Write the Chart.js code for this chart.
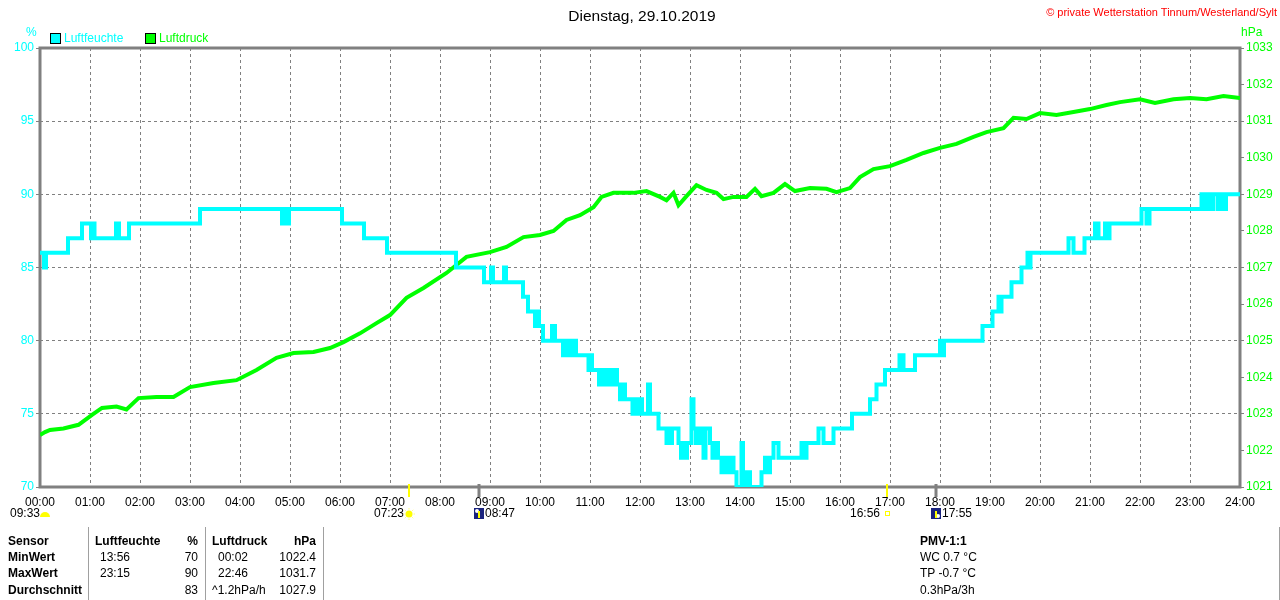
<!DOCTYPE html>
<html>
<head>
<meta charset="utf-8">
<script src="https://cdn.jsdelivr.net/npm/chart.js@4"></script>
<style>
  body { margin: 0; background: #fff; font-family: "Liberation Sans", Arial, sans-serif; }
  #wrap { position: relative; width: 1280px; height: 600px; overflow: hidden; }
  #chart { position: absolute; left: 0; top: 0; }
  .t { position: absolute; font-size: 12px; white-space: nowrap; line-height: 14px; }
  .b { font-weight: bold; }
  .r { text-align: right; }
  .sep { position: absolute; top: 527px; width: 1px; height: 73px; background: #a0a0a0; }
  .box { position: absolute; width: 9px; height: 9px; border: 1px solid #000; }
</style>
</head>
<body>
<div id="wrap">
  <canvas id="chart" width="1280" height="600"></canvas>

  <div class="t" style="left:2px;width:1280px;top:7px;text-align:center;font-size:15.5px;line-height:17px;">Dienstag, 29.10.2019</div>
  <div class="t r" style="right:3px;top:5px;color:#ff0000;font-size:11px;">© private Wetterstation Tinnum/Westerland/Sylt</div>

  <div class="t" style="left:26px;top:25px;color:#00ffff;">%</div>
  <div class="t" style="left:1241px;top:25px;color:#00ff00;">hPa</div>

  <div class="box" style="left:50px;top:33px;background:#00ffff;"></div>
  <div class="t" style="left:64px;top:31px;color:#00ffff;">Luftfeuchte</div>
  <div class="box" style="left:145px;top:33px;background:#00ff00;"></div>
  <div class="t" style="left:159px;top:31px;color:#00ff00;">Luftdruck</div>

  <div class="sep" style="left:88px;"></div>
  <div class="sep" style="left:205px;"></div>
  <div class="sep" style="left:323px;"></div>
  <div class="sep" style="left:1279px;"></div>

  <div class="t b" style="left:8px;top:534px;">Sensor</div>
  <div class="t b" style="left:8px;top:550px;">MinWert</div>
  <div class="t b" style="left:8px;top:566px;">MaxWert</div>
  <div class="t b" style="left:8px;top:583px;">Durchschnitt</div>

  <div class="t b" style="left:95px;top:534px;">Luftfeuchte</div>
  <div class="t b r" style="left:150px;width:48px;top:534px;">%</div>
  <div class="t" style="left:100px;top:550px;">13:56</div>
  <div class="t r" style="left:150px;width:48px;top:550px;">70</div>
  <div class="t" style="left:100px;top:566px;">23:15</div>
  <div class="t r" style="left:150px;width:48px;top:566px;">90</div>
  <div class="t r" style="left:150px;width:48px;top:583px;">83</div>

  <div class="t b" style="left:212px;top:534px;">Luftdruck</div>
  <div class="t b r" style="left:266px;width:50px;top:534px;">hPa</div>
  <div class="t" style="left:218px;top:550px;">00:02</div>
  <div class="t r" style="left:266px;width:50px;top:550px;">1022.4</div>
  <div class="t" style="left:218px;top:566px;">22:46</div>
  <div class="t r" style="left:266px;width:50px;top:566px;">1031.7</div>
  <div class="t" style="left:212px;top:583px;">^1.2hPa/h</div>
  <div class="t r" style="left:266px;width:50px;top:583px;">1027.9</div>

  <div class="t b" style="left:920px;top:534px;">PMV-1:1</div>
  <div class="t" style="left:920px;top:550px;">WC 0.7 °C</div>
  <div class="t" style="left:920px;top:566px;">TP -0.7 °C</div>
  <div class="t" style="left:920px;top:583px;">0.3hPa/3h</div>
</div>

<script>
// Luftfeuchte (%), Stufenwerte: Zeitpunkt der Änderung (Stunden) und neuer Wert
const humTimes = [0, 0.08, 0.12, 0.56, 0.84, 1.02, 1.05, 1.09, 1.52, 1.58, 1.78, 3.2,
    4.84, 4.9, 4.93, 4.98, 6.04, 6.48, 6.94, 8.32, 8.88, 9.02, 9.06, 9.28, 9.32,
    9.66, 9.76, 9.9, 9.94, 9.98, 10.06, 10.24, 10.3, 10.46, 10.5, 10.54, 10.58, 10.62,
    10.66, 10.72, 10.97, 11.0, 11.04, 11.18, 11.24, 11.3, 11.36, 11.42, 11.5, 11.54,
    11.6, 11.66, 11.7, 11.85, 11.9, 11.94, 12.0, 12.04, 12.16, 12.2, 12.37, 12.53,
    12.57, 12.6, 12.64, 12.77, 12.82, 12.86, 12.9, 12.94, 13.03, 13.07, 13.12, 13.16,
    13.2, 13.24, 13.27, 13.31, 13.4, 13.45, 13.5, 13.56, 13.63, 13.7, 13.75, 13.8,
    13.87, 13.93, 14.03, 14.06, 14.1, 14.16, 14.2, 14.43, 14.5, 14.55, 14.6, 14.67,
    14.77, 15.23, 15.27, 15.33, 15.57, 15.67, 15.87, 16.24, 16.6, 16.73, 16.9, 17.19,
    17.27, 17.5, 18.0, 18.04, 18.08, 18.85, 19.05, 19.17, 19.2, 19.23, 19.43, 19.63,
    19.75, 19.78, 19.81, 20.57, 20.67, 20.89, 21.1, 21.17, 21.3, 21.36, 21.39, 22.03,
    22.13, 22.19, 23.23, 23.3, 23.34, 23.42, 23.46, 23.55, 23.6, 23.68, 23.72, 24];
const humValues = [86, 85, 86, 87, 88, 87, 88, 87, 88, 87, 88, 89,
    88, 89, 88, 89, 88, 87, 86, 85, 84, 85, 84, 85, 84,
    83, 82, 81, 82, 81, 80, 81, 80, 79, 80, 79, 80, 79,
    80, 79, 78, 79, 78, 77, 78, 77, 78, 77, 78, 77,
    76, 77, 76, 75, 76, 75, 76, 75, 77, 75, 74, 73,
    74, 73, 74, 73, 72, 73, 72, 73, 76, 74, 73, 74,
    73, 74, 72, 74, 73, 72, 73, 72, 71, 72, 71, 72,
    71, 70, 73, 71, 70, 71, 70, 71, 72, 71, 72, 73,
    72, 73, 72, 73, 74, 73, 74, 75, 76, 77, 78, 79,
    78, 79, 80, 79, 80, 81, 82, 83, 82, 83, 84, 85,
    86, 85, 86, 87, 86, 87, 88, 87, 88, 87, 88, 89,
    88, 89, 90, 89, 90, 89, 90, 89, 90, 89, 90, 90];

// Luftdruck (hPa)
const presTimes = [0, 0.1, 0.2, 0.47, 0.77, 1.04, 1.24, 1.53, 1.73, 1.97, 2.33, 2.67,
    3.0, 3.47, 3.93, 4.33, 4.73, 5.07, 5.47, 5.8, 6.07, 6.4, 6.73, 7.0, 7.33, 7.67,
    8.13, 8.53, 9.0, 9.33, 9.67, 10.0, 10.27, 10.53, 10.8, 11.07, 11.23, 11.47, 11.87,
    12.13, 12.4, 12.53, 12.67, 12.77, 12.93, 13.13, 13.33, 13.53, 13.67, 13.87, 14.13,
    14.3, 14.43, 14.67, 14.9, 15.1, 15.4, 15.73, 15.93, 16.2, 16.4, 16.67, 17.0, 17.33,
    17.67, 18.0, 18.33, 18.67, 18.93, 19.27, 19.47, 19.73, 20.0, 20.33, 20.67, 21.0,
    21.33, 21.6, 22.0, 22.3, 22.67, 23.0, 23.33, 23.67, 24];
const presValues = [1022.42, 1022.5, 1022.56, 1022.6, 1022.7, 1022.97, 1023.16, 1023.2,
    1023.12, 1023.43, 1023.46, 1023.46, 1023.73, 1023.84, 1023.92, 1024.2, 1024.53,
    1024.66, 1024.69, 1024.8, 1024.96, 1025.2, 1025.48, 1025.7, 1026.17, 1026.44,
    1026.85, 1027.29, 1027.42, 1027.56, 1027.83, 1027.89, 1028.0, 1028.3, 1028.43,
    1028.65, 1028.93, 1029.04, 1029.04, 1029.09, 1028.93, 1028.84, 1029.04, 1028.7,
    1028.95, 1029.25, 1029.12, 1029.04, 1028.87, 1028.93, 1028.93, 1029.15, 1028.95,
    1029.04, 1029.28, 1029.09, 1029.17, 1029.15, 1029.06, 1029.17, 1029.47, 1029.69,
    1029.77, 1029.94, 1030.13, 1030.27, 1030.38, 1030.57, 1030.7, 1030.81, 1031.09,
    1031.06, 1031.22, 1031.17, 1031.25, 1031.33, 1031.44, 1031.52, 1031.6, 1031.5,
    1031.6, 1031.63, 1031.6, 1031.69, 1031.63];

// Sonne/Mond: Aufgang und Untergang
const eventTimes = [7 + 23 / 60, 8 + 47 / 60, 16 + 56 / 60, 17 + 55 / 60];
const eventLabels = ['07:23', '08:47', '16:56', '17:55'];
const eventKinds = ['sunrise', 'moonrise', 'sunset', 'moonset'];
const dayLength = '09:33';

const toPoints = (xs, ys) => xs.map((x, i) => ({ x: x, y: ys[i] }));

const frame = {
    id: 'frame',
    beforeDatasetsDraw(chart) {
        const { ctx, chartArea: a } = chart;
        ctx.save();
        ctx.strokeStyle = '#808080';
        ctx.lineWidth = 3;
        ctx.beginPath();
        ctx.moveTo(a.left, a.top);
        ctx.lineTo(a.right, a.top);
        ctx.lineTo(a.right, a.bottom);
        ctx.lineTo(a.left, a.bottom);
        ctx.closePath();
        ctx.stroke();
        ctx.restore();
    },
    afterDraw(chart) {
        const { ctx, chartArea: a } = chart;
        const xs = chart.scales.x;
        ctx.save();
        ctx.font = '12px "Liberation Sans", Arial, sans-serif';
        ctx.textBaseline = 'middle';
        ctx.fillStyle = '#000';

        // Tageslänge links
        ctx.textAlign = 'left';
        ctx.fillText(dayLength, 10, 514);
        ctx.fillStyle = '#ffff00';
        ctx.beginPath();
        ctx.arc(45, 517, 5, Math.PI, 0);
        ctx.fill();

        eventTimes.forEach((t, i) => {
            const px = Math.round(xs.getPixelForValue(t));
            const kind = eventKinds[i];
            const sun = kind.startsWith('sun');
            ctx.fillStyle = sun ? '#ffff00' : '#808080';
            ctx.fillRect(px - (sun ? 1 : 1.5), a.bottom - 3, sun ? 2 : 3, 13);
            ctx.fillStyle = '#000';
            if (kind === 'sunrise') {
                ctx.textAlign = 'right';
                ctx.fillText(eventLabels[i], px - 5, 514);
                ctx.fillStyle = '#ffff00';
                ctx.beginPath();
                ctx.arc(px, 514, 3.5, 0, Math.PI * 2);
                ctx.fill();
                ctx.strokeStyle = '#ffff80';
                ctx.lineWidth = 1;
                for (let k = 0; k < 8; k++) {
                    const ang = k * Math.PI / 4;
                    ctx.beginPath();
                    ctx.moveTo(px + Math.cos(ang) * 4.5, 514 + Math.sin(ang) * 4.5);
                    ctx.lineTo(px + Math.cos(ang) * 6, 514 + Math.sin(ang) * 6);
                    ctx.stroke();
                }
            } else if (kind === 'sunset') {
                ctx.textAlign = 'right';
                ctx.fillText(eventLabels[i], px - 7, 514);
                ctx.strokeStyle = '#ffff00';
                ctx.lineWidth = 1;
                ctx.strokeRect(px - 1.5, 511.5, 4, 4);
            } else {
                ctx.fillStyle = '#1a237e';
                ctx.fillRect(px - 5, 508, 10, 11);
                ctx.fillStyle = '#ffffff';
                ctx.beginPath();
                ctx.arc(kind === 'moonrise' ? px - 2 : px + 2, kind === 'moonrise' ? 511 : 516, 2, 0, Math.PI * 2);
                ctx.fill();
                ctx.fillStyle = '#ffff00';
                ctx.fillRect(px - 1, 511, 2, 7);
                ctx.fillStyle = '#000';
                ctx.textAlign = 'left';
                ctx.fillText(eventLabels[i], px + 6, 514);
            }
        });
        ctx.restore();
    }
};

const ctx = document.getElementById('chart').getContext('2d');
const myChart = new Chart(ctx, {
    type: 'line',
    data: {
        datasets: [{
            label: 'Luftfeuchte',
            data: toPoints(humTimes, humValues),
            yAxisID: 'y',
            borderColor: '#00ffff',
            borderWidth: 4,
            stepped: 'before',
            pointRadius: 0,
            fill: false
        }, {
            label: 'Luftdruck',
            data: toPoints(presTimes, presValues),
            yAxisID: 'y2',
            borderColor: '#00ff00',
            borderWidth: 4,
            tension: 0,
            pointRadius: 0,
            fill: false
        }]
    },
    options: {
        responsive: false,
        animation: false,
        events: [],
        layout: { padding: { top: 48, left: 0, right: 0, bottom: 0 } },
        plugins: {
            legend: { display: false },
            title: { display: false },
            tooltip: { enabled: false }
        },
        scales: {
            x: {
                type: 'linear',
                min: 0,
                max: 24,
                afterFit: s => { s.height = 113; },
                ticks: {
                    stepSize: 1,
                    autoSkip: false,
                    maxRotation: 0,
                    padding: 8,
                    color: '#000',
                    font: { family: '"Liberation Sans", Arial, sans-serif', size: 12 },
                    callback: v => String(v).padStart(2, '0') + ':00'
                },
                grid: { color: '#808080', lineWidth: 1, drawTicks: false },
                border: { display: false, dash: [3, 3] }
            },
            y: {
                position: 'left',
                min: 70,
                max: 100,
                afterFit: s => { s.width = 40; },
                ticks: {
                    stepSize: 5,
                    padding: 2,
                    color: '#00ffff',
                    font: { family: '"Liberation Sans", Arial, sans-serif', size: 12 },
                    callback: v => String(v)
                },
                grid: { color: '#808080', lineWidth: 1, tickLength: 4, tickColor: '#808080' },
                border: { display: false, dash: [3, 3] }
            },
            y2: {
                position: 'right',
                min: 1021,
                max: 1033,
                afterFit: s => { s.width = 40; },
                ticks: {
                    stepSize: 1,
                    padding: 2,
                    color: '#00ff00',
                    font: { family: '"Liberation Sans", Arial, sans-serif', size: 12 },
                    callback: v => String(v)
                },
                grid: { drawOnChartArea: false, tickLength: 4, tickColor: '#808080', lineWidth: 1 },
                border: { display: false }
            }
        }
    },
    plugins: [frame]
});
</script>
</body>
</html>
